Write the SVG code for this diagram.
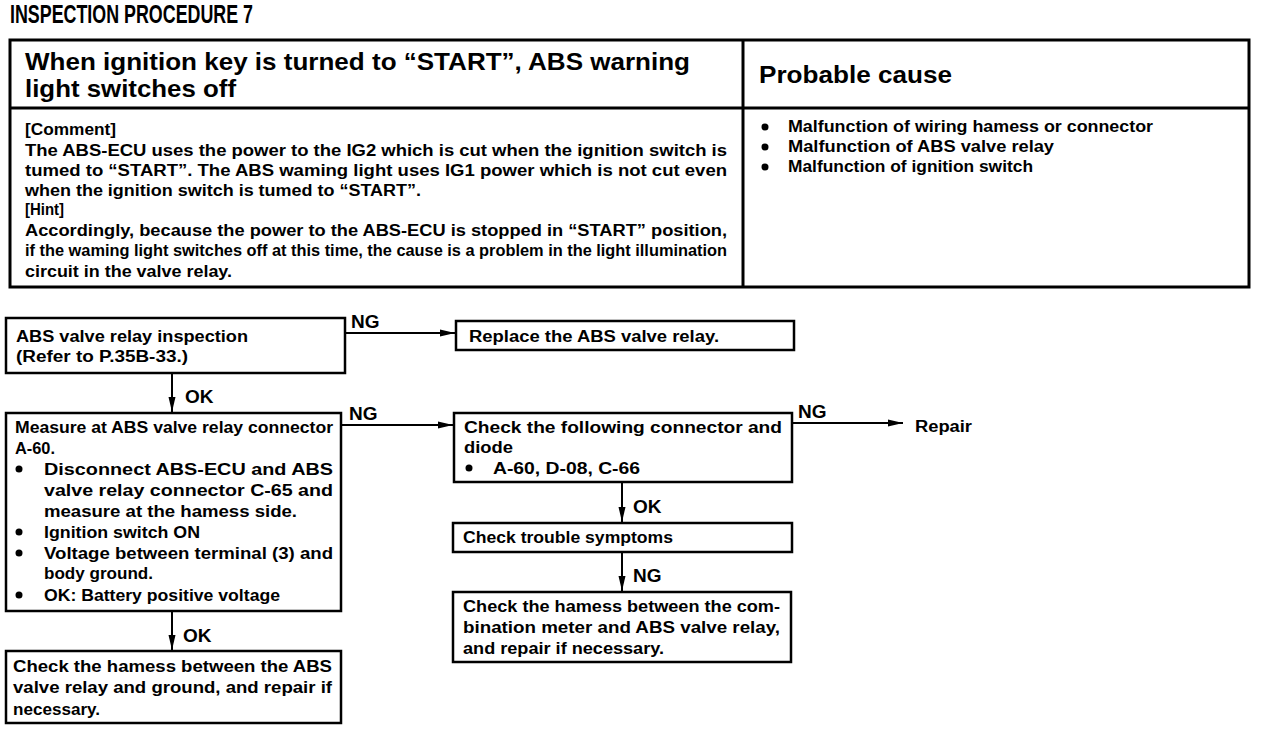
<svg xmlns="http://www.w3.org/2000/svg" width="1280" height="738" viewBox="0 0 1280 738">
<defs>
<style>
text{font-family:"Liberation Sans",Arial,Helvetica,sans-serif;font-weight:bold;fill:#000}
.t{font-size:16px}
.h{font-size:24px}
.title{font-size:26px}
.pc{font-size:23px}
.lbl{font-size:19px}
.box{fill:#fff;stroke:#000;stroke-width:2.5}
.tbl{fill:none;stroke:#000;stroke-width:3}
.conn{fill:none;stroke:#000;stroke-width:2}
.dot{fill:#000}
</style>
<marker id="ah" markerUnits="userSpaceOnUse" markerWidth="16" markerHeight="10" refX="15" refY="5" orient="auto">
<path d="M0,1.5 L15,5 L0,8.5 Z" fill="#000"/>
</marker>
</defs>
<rect width="1280" height="738" fill="#fff"/>

<g id="title">
<text class="title" x="10" y="23" textLength="243" lengthAdjust="spacingAndGlyphs">INSPECTION  PROCEDURE 7</text>
</g>

<g id="table">
<rect class="tbl" x="10" y="40" width="1239" height="247"/>
<line class="tbl" x1="743" y1="40" x2="743" y2="287"/>
<line class="tbl" x1="10" y1="108" x2="1249" y2="108"/>
<text class="h" x="25" y="70" textLength="665" lengthAdjust="spacingAndGlyphs">When ignition key is turned to “START”, ABS warning</text>
<text class="h" x="25" y="97" textLength="211" lengthAdjust="spacingAndGlyphs">light switches off</text>
<text class="pc" x="759" y="83" textLength="193" lengthAdjust="spacingAndGlyphs">Probable cause</text>
<text class="t" x="25" y="135" textLength="91" lengthAdjust="spacingAndGlyphs">[Comment]</text>
<text class="t" x="25" y="156" textLength="702" lengthAdjust="spacingAndGlyphs">The ABS-ECU uses the power to the IG2 which is cut when the ignition switch is</text>
<text class="t" x="25" y="176" textLength="702" lengthAdjust="spacingAndGlyphs">tumed to “START”.  The ABS waming light uses IG1 power which is not cut even</text>
<text class="t" x="25" y="196" textLength="396" lengthAdjust="spacingAndGlyphs">when the ignition switch is tumed to “START”.</text>
<text class="t" x="25" y="215" textLength="39" lengthAdjust="spacingAndGlyphs">[Hint]</text>
<text class="t" x="25" y="236" textLength="702" lengthAdjust="spacingAndGlyphs">Accordingly, because the power to the ABS-ECU is stopped in “START” position,</text>
<text class="t" x="25" y="256" textLength="702" lengthAdjust="spacingAndGlyphs">if the waming light switches off at this time, the cause is a problem in the light illumination</text>
<text class="t" x="25" y="277" textLength="207" lengthAdjust="spacingAndGlyphs">circuit in the valve relay.</text>
<circle class="dot" cx="765" cy="127" r="3.5"/>
<circle class="dot" cx="765" cy="147" r="3.5"/>
<circle class="dot" cx="765" cy="167" r="3.5"/>
<text class="t" x="788" y="132" textLength="365" lengthAdjust="spacingAndGlyphs">Malfunction of wiring hamess or connector</text>
<text class="t" x="788" y="152" textLength="266" lengthAdjust="spacingAndGlyphs">Malfunction of ABS valve relay</text>
<text class="t" x="788" y="172" textLength="245" lengthAdjust="spacingAndGlyphs">Malfunction of ignition switch</text>
</g>

<g id="connectors">
<line class="conn" x1="345" y1="333" x2="455" y2="333" marker-end="url(#ah)"/>
<line class="conn" x1="172" y1="373" x2="172" y2="412" marker-end="url(#ah)"/>
<line class="conn" x1="341" y1="425" x2="453" y2="425" marker-end="url(#ah)"/>
<line class="conn" x1="792" y1="423" x2="903" y2="423" marker-end="url(#ah)"/>
<line class="conn" x1="622" y1="482" x2="622" y2="522" marker-end="url(#ah)"/>
<line class="conn" x1="622" y1="552" x2="622" y2="591" marker-end="url(#ah)"/>
<line class="conn" x1="172" y1="611" x2="172" y2="650" marker-end="url(#ah)"/>
<text class="lbl" x="351" y="328">NG</text>
<text class="lbl" x="185" y="403">OK</text>
<text class="lbl" x="349" y="420">NG</text>
<text class="lbl" x="798" y="418">NG</text>
<text class="lbl" x="633" y="513">OK</text>
<text class="lbl" x="633" y="582">NG</text>
<text class="lbl" x="183" y="642">OK</text>
</g>

<g id="n1">
<rect class="box" x="6" y="318" width="339" height="55"/>
<text class="t" x="16" y="342" textLength="232" lengthAdjust="spacingAndGlyphs">ABS valve relay inspection</text>
<text class="t" x="16" y="362" textLength="172" lengthAdjust="spacingAndGlyphs">(Refer to P.35B-33.)</text>
</g>

<g id="n2">
<rect class="box" x="456" y="321" width="338" height="29"/>
<text class="t" x="469" y="342" textLength="250" lengthAdjust="spacingAndGlyphs">Replace the ABS valve relay.</text>
</g>

<g id="n3">
<rect class="box" x="6" y="413" width="335" height="198"/>
<text class="t" x="15" y="433" textLength="318" lengthAdjust="spacingAndGlyphs">Measure at ABS valve relay connector</text>
<text class="t" x="15" y="454" textLength="40" lengthAdjust="spacingAndGlyphs">A-60.</text>
<circle class="dot" cx="19" cy="469" r="3.5"/>
<text class="t" x="44" y="475" textLength="289" lengthAdjust="spacingAndGlyphs">Disconnect ABS-ECU and ABS</text>
<text class="t" x="44" y="496" textLength="289" lengthAdjust="spacingAndGlyphs">valve relay connector C-65 and</text>
<text class="t" x="44" y="517" textLength="253" lengthAdjust="spacingAndGlyphs">measure at the hamess side.</text>
<circle class="dot" cx="19" cy="532" r="3.5"/>
<text class="t" x="44" y="538" textLength="156" lengthAdjust="spacingAndGlyphs">Ignition switch ON</text>
<circle class="dot" cx="19" cy="553" r="3.5"/>
<text class="t" x="44" y="559" textLength="289" lengthAdjust="spacingAndGlyphs">Voltage between terminal (3) and</text>
<text class="t" x="44" y="579" textLength="109" lengthAdjust="spacingAndGlyphs">body ground.</text>
<circle class="dot" cx="19" cy="595" r="3.5"/>
<text class="t" x="44" y="601" textLength="236" lengthAdjust="spacingAndGlyphs">OK: Battery positive voltage</text>
</g>

<g id="n4">
<rect class="box" x="454" y="413" width="338" height="69"/>
<text class="t" x="464" y="433" textLength="318" lengthAdjust="spacingAndGlyphs">Check the following connector and</text>
<text class="t" x="464" y="453" textLength="49" lengthAdjust="spacingAndGlyphs">diode</text>
<circle class="dot" cx="469" cy="468" r="3.5"/>
<text class="t" x="493" y="474" textLength="147" lengthAdjust="spacingAndGlyphs">A-60, D-08, C-66</text>
</g>

<g id="n5">
<text class="t" x="915" y="432" textLength="57" lengthAdjust="spacingAndGlyphs">Repair</text>
</g>

<g id="n6">
<rect class="box" x="453" y="523" width="339" height="29"/>
<text class="t" x="463" y="543" textLength="210" lengthAdjust="spacingAndGlyphs">Check trouble symptoms</text>
</g>

<g id="n7">
<rect class="box" x="453" y="592" width="338" height="70"/>
<text class="t" x="463" y="612" textLength="317" lengthAdjust="spacingAndGlyphs">Check the hamess between the com-</text>
<text class="t" x="463" y="633" textLength="317" lengthAdjust="spacingAndGlyphs">bination meter and ABS valve relay,</text>
<text class="t" x="463" y="654" textLength="201" lengthAdjust="spacingAndGlyphs">and repair if necessary.</text>
</g>

<g id="n8">
<rect class="box" x="6" y="651" width="335" height="72"/>
<text class="t" x="13" y="672" textLength="319" lengthAdjust="spacingAndGlyphs">Check the hamess between the ABS</text>
<text class="t" x="13" y="693" textLength="319" lengthAdjust="spacingAndGlyphs">valve relay and ground, and repair if</text>
<text class="t" x="13" y="715" textLength="87" lengthAdjust="spacingAndGlyphs">necessary.</text>
</g>
</svg>
